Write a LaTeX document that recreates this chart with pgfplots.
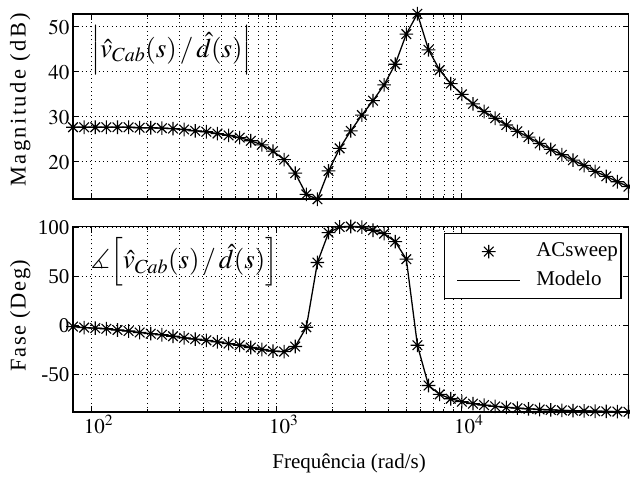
\documentclass[border=0pt]{standalone}
\usepackage{mathptmx}
\usepackage{amssymb}
\usepackage[no-math]{fontspec}
\setmainfont{Liberation Serif}
\usepackage{pgfplots}
\usepackage{pgfplotstable}
\pgfplotsset{compat=1.18}

% MATLAB-style '*' marker: a plus overlaid with a cross
\pgfdeclareplotmark{mstar}{%
  \pgfpathmoveto{\pgfqpoint{-\pgfplotmarksize}{0pt}}%
  \pgfpathlineto{\pgfqpoint{\pgfplotmarksize}{0pt}}%
  \pgfpathmoveto{\pgfqpoint{0pt}{-\pgfplotmarksize}}%
  \pgfpathlineto{\pgfqpoint{0pt}{\pgfplotmarksize}}%
  \pgfpathmoveto{\pgfqpoint{-.7071\pgfplotmarksize}{-.7071\pgfplotmarksize}}%
  \pgfpathlineto{\pgfqpoint{.7071\pgfplotmarksize}{.7071\pgfplotmarksize}}%
  \pgfpathmoveto{\pgfqpoint{-.7071\pgfplotmarksize}{.7071\pgfplotmarksize}}%
  \pgfpathlineto{\pgfqpoint{.7071\pgfplotmarksize}{-.7071\pgfplotmarksize}}%
  \pgfusepathqstroke}

% frequency (rad/s), magnitude (dB), phase (deg)
\pgfplotstableread{
w      mag   ph
79.43  27.5  -1.0
91.20  27.5  -2.0
104.71 27.5  -2.5
120.23 27.5  -3.2
138.04 27.5  -4.5
158.49 27.5  -5.5
181.97 27.4  -7.0
208.93 27.4  -8.2
239.88 27.3  -9.3
275.42 27.2  -10.8
316.23 27.0  -12.4
363.08 26.7  -13.8
416.87 26.5  -15.0
478.63 26.1  -16.6
549.54 25.7  -18.3
630.96 25.2  -20.0
724.44 24.5  -22.3
831.76 23.6  -24.3
954.99 22.2  -26.0
1096.5 20.3  -26.5
1258.9 17.3  -21.3
1445.4 12.6  -1.7
1659.6 11.5  64.3
1905.5 17.8  94.7
2187.8 22.8  100.5
2511.9 26.7  101.0
2884.0 30.2  100.3
3311.3 33.4  97.2
3801.9 36.9  93.7
4365.2 41.5  85.6
5011.9 48.2  67.7
5754.4 52.7  -20.0
6606.9 44.7  -61.0
7585.8 40.2  -70.0
8709.6 37.2  -74.5
10000  34.8  -77.5
11482  32.7  -79.5
13183  31.0  -81.0
15136  29.5  -82.3
17378  28.0  -83.3
19953  26.6  -84.1
22909  25.3  -84.8
26303  23.9  -85.4
30200  22.6  -85.9
34674  21.4  -86.3
39811  20.2  -86.6
45709  19.0  -86.9
52481  17.7  -87.2
60256  16.6  -87.4
69183  15.4  -87.6
79433  14.3  -87.8
}\bode

\newcommand{\tickfont}{\fontsize{21bp}{24bp}\selectfont}
\newcommand{\labelfont}{\fontsize{21bp}{24bp}\selectfont}
\newcommand{\ylabelfont}[1]{\fontsize{22.5bp}{24bp}\selectfont\addfontfeature{LetterSpace=#1}}

\pgfplotsset{
  sweep/.style={only marks, mark=mstar, mark size=6.8bp, black, line width=1.1bp},
  model/.style={no marks, black, line width=1.3bp},
}

\begin{document}
\begin{tikzpicture}
\useasboundingbox (-73bp,-277.7bp) rectangle (557bp,199.3bp);

\begin{semilogxaxis}[name=mag, at={(0,0)}, anchor=south west,
  width=555.5bp, height=185.5bp, scale only axis,
  xmin=79.43, xmax=79433, xtick={100,1000,10000},
  tick pos=both, tick align=inside,
  major tick length=6bp, minor tick length=3bp,
  every tick/.style={black, line width=0.9bp},
  axis line style={line width=1.6bp},
  xminorgrids=true, ymajorgrids=true, xmajorgrids=true,
  grid style={black, line width=0.8bp, dash pattern=on 0.9bp off 3.4bp},
  minor grid style={black, line width=0.8bp, dash pattern=on 0.9bp off 3.4bp},
  tick label style={font=\tickfont},
  yticklabel style={yshift=-2bp},
  ylabel style={at={(axis description cs:-0.0855,0.536)}, anchor=base, font=\ylabelfont{11}},
  clip mode=individual,
  ymin=11.5, ymax=52.7, ytick={20,30,40,50},
  xticklabels={},
  ylabel={Magnitude (dB)}]
  \addplot[sweep] table[x=w, y=mag] {\bode};
  \addplot[model] table[x=w, y=mag] {\bode};
  \node at (axis cs:270,44.6) {\fontsize{27bp}{27bp}\selectfont
    $\Bigl|\hat{v}_{Cab}(s)\,/\,\hat{d}(s)\Bigr|$};
\end{semilogxaxis}

\begin{semilogxaxis}[name=ph, at={(0,-27.2bp)}, anchor=north west,
  width=555.5bp, height=185.5bp, scale only axis,
  xmin=79.43, xmax=79433, xtick={100,1000,10000},
  tick pos=both, tick align=inside,
  major tick length=6bp, minor tick length=3bp,
  every tick/.style={black, line width=0.9bp},
  axis line style={line width=1.6bp},
  xminorgrids=true, ymajorgrids=true, xmajorgrids=true,
  grid style={black, line width=0.8bp, dash pattern=on 0.9bp off 3.4bp},
  minor grid style={black, line width=0.8bp, dash pattern=on 0.9bp off 3.4bp},
  tick label style={font=\tickfont},
  xticklabel style={xshift=7bp},
  ylabel style={at={(axis description cs:-0.0855,0.52)}, anchor=base, font=\ylabelfont{7}},
  xlabel style={at={(axis description cs:0.497,-0.3057)}, anchor=base, font=\labelfont},
  clip mode=individual,
  ymin=-88, ymax=101, ytick={-50,0,50,100}, yticklabels={-50,0,50,100},
  ylabel={Fase (Deg)}, xlabel={Frequência (rad/s)},
  legend cell align=left,
  legend style={at={(0.9874,0.965)}, anchor=north east,
    draw=black, line width=1.2bp, fill=white, font=\tickfont,
    inner xsep=3bp, inner ysep=8bp, row sep=9bp,
    nodes={inner sep=0pt, text height=15bp, text depth=5bp}},
  legend image code/.code={%
    \path[draw=none] (-10bp,0bp) -- (79bp,0bp);
    \draw[mark repeat=2, mark phase=2, #1]
      plot coordinates {(0bp,0bp) (31.5bp,0bp) (63bp,0bp)};}]
  \addplot[sweep] table[x=w, y=ph] {\bode};
  \addlegendentry{ACsweep}
  \addplot[model] table[x=w, y=ph] {\bode};
  \addlegendentry{Modelo}
  \node at (axis cs:317,65) {\fontsize{27bp}{27bp}\selectfont
    $\measuredangle\Bigl[\hat{v}_{Cab}(s)\,/\,\hat{d}(s)\Bigr]$};
\end{semilogxaxis}
\end{tikzpicture}
\end{document}
